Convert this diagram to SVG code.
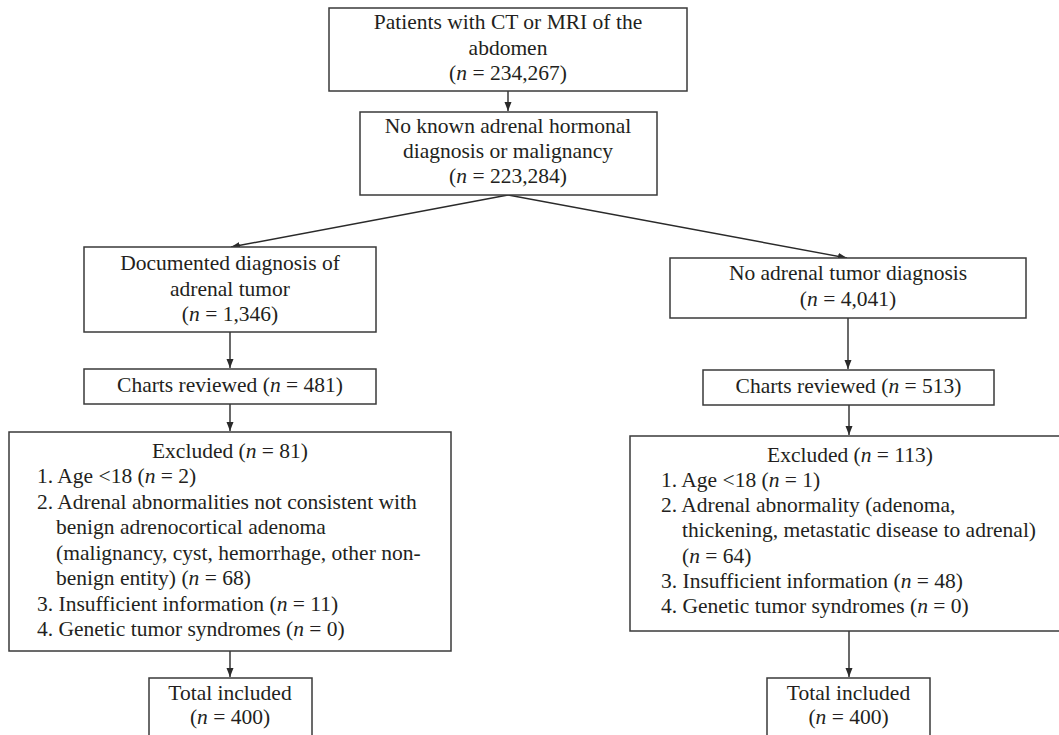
<svg xmlns="http://www.w3.org/2000/svg" width="1059" height="735" viewBox="0 0 1059 735">
<style>
.box{fill:#fff;stroke:#3a3a3a;stroke-width:1.5}
.t{font-family:"Liberation Serif","Times New Roman",serif;font-size:21.5px;fill:#231f20}
.c{text-anchor:middle}
.i{font-style:italic}
.ln{stroke:#2a2a2a;stroke-width:1.4;fill:none}
</style>
<defs>
<marker id="ah" markerUnits="userSpaceOnUse" markerWidth="10" markerHeight="8" refX="9" refY="3.5" orient="auto">
<path d="M0,0 L9,3.5 L0,7 z" fill="#2a2a2a"/>
</marker>
</defs>
<rect width="1059" height="735" fill="#fff"/>
<g id="connectors">
<line class="ln" x1="508" y1="91" x2="508" y2="111" marker-end="url(#ah)"/>
<line class="ln" x1="508" y1="195" x2="231" y2="247" marker-end="url(#ah)"/>
<line class="ln" x1="508" y1="195" x2="847" y2="258" marker-end="url(#ah)"/>
<line class="ln" x1="230" y1="332" x2="230" y2="368" marker-end="url(#ah)"/>
<line class="ln" x1="230" y1="404" x2="230" y2="431" marker-end="url(#ah)"/>
<line class="ln" x1="230" y1="651" x2="230" y2="677" marker-end="url(#ah)"/>
<line class="ln" x1="848" y1="318" x2="848" y2="369" marker-end="url(#ah)"/>
<line class="ln" x1="849" y1="405" x2="849" y2="435" marker-end="url(#ah)"/>
<line class="ln" x1="849" y1="631" x2="849" y2="677" marker-end="url(#ah)"/>
</g>
<g id="n1">
<rect class="box" x="329" y="8" width="358" height="83"/>
<text class="t c" x="508" y="29">Patients with CT or MRI of the</text>
<text class="t c" x="508" y="55">abdomen</text>
<text class="t c" x="508" y="80">(<tspan class="i">n</tspan> = 234,267)</text>
</g>
<g id="n2">
<rect class="box" x="360" y="112" width="297" height="83"/>
<text class="t c" x="508" y="133">No known adrenal hormonal</text>
<text class="t c" x="508" y="158">diagnosis or malignancy</text>
<text class="t c" x="508" y="183">(<tspan class="i">n</tspan> = 223,284)</text>
</g>
<g id="n3">
<rect class="box" x="84" y="247" width="292" height="85"/>
<text class="t c" x="230" y="270">Documented diagnosis of</text>
<text class="t c" x="230" y="296">adrenal tumor</text>
<text class="t c" x="230" y="321">(<tspan class="i">n</tspan> = 1,346)</text>
</g>
<g id="n4">
<rect class="box" x="670" y="258" width="356" height="60"/>
<text class="t c" x="848" y="280">No adrenal tumor diagnosis</text>
<text class="t c" x="848" y="306">(<tspan class="i">n</tspan> = 4,041)</text>
</g>
<g id="n5">
<rect class="box" x="84" y="369" width="292" height="35"/>
<text class="t c" x="230" y="392">Charts reviewed (<tspan class="i">n</tspan> = 481)</text>
</g>
<g id="n6">
<rect class="box" x="703" y="370" width="291" height="35"/>
<text class="t c" x="848.5" y="393">Charts reviewed (<tspan class="i">n</tspan> = 513)</text>
</g>
<g id="n7">
<rect class="box" x="9" y="432" width="442" height="219"/>
<text class="t c" x="230" y="458">Excluded (<tspan class="i">n</tspan> = 81)</text>
<text class="t" x="37" y="483">1. Age &lt;18 (<tspan class="i">n</tspan> = 2)</text>
<text class="t" x="37" y="509">2. Adrenal abnormalities not consistent with</text>
<text class="t" x="56" y="534">benign adrenocortical adenoma</text>
<text class="t" x="56" y="560">(malignancy, cyst, hemorrhage, other non-</text>
<text class="t" x="56" y="585">benign entity) (<tspan class="i">n</tspan> = 68)</text>
<text class="t" x="37" y="611">3. Insufficient information (<tspan class="i">n</tspan> = 11)</text>
<text class="t" x="37" y="636">4. Genetic tumor syndromes (<tspan class="i">n</tspan> = 0)</text>
</g>
<g id="n8">
<rect class="box" x="630" y="436" width="440" height="195"/>
<text class="t c" x="850" y="462">Excluded (<tspan class="i">n</tspan> = 113)</text>
<text class="t" x="661" y="487">1. Age &lt;18 (<tspan class="i">n</tspan> = 1)</text>
<text class="t" x="661" y="512">2. Adrenal abnormality (adenoma,</text>
<text class="t" x="682" y="537">thickening, metastatic disease to adrenal)</text>
<text class="t" x="682" y="563">(<tspan class="i">n</tspan> = 64)</text>
<text class="t" x="661" y="588">3. Insufficient information (<tspan class="i">n</tspan> = 48)</text>
<text class="t" x="661" y="613">4. Genetic tumor syndromes (<tspan class="i">n</tspan> = 0)</text>
</g>
<g id="n9">
<rect class="box" x="149" y="678" width="163" height="70"/>
<text class="t c" x="230" y="700">Total included</text>
<text class="t c" x="230" y="724">(<tspan class="i">n</tspan> = 400)</text>
</g>
<g id="n10">
<rect class="box" x="767" y="678" width="163" height="70"/>
<text class="t c" x="848.5" y="700">Total included</text>
<text class="t c" x="848.5" y="724">(<tspan class="i">n</tspan> = 400)</text>
</g>
</svg>
